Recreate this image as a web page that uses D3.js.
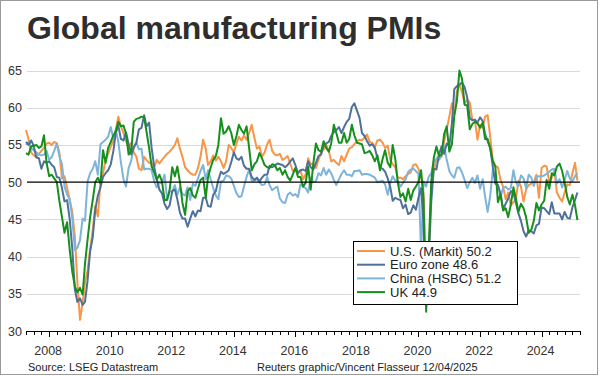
<!DOCTYPE html>
<html>
<head>
  <title>Global manufacturing PMIs</title>
  <script src="https://d3js.org/d3.v7.min.js"></script>
  <style>
    body { margin: 0; background: #fff; }
    text { font-family: "Liberation Sans", Arial, sans-serif; }
  </style>
</head>
<body>
  <div id="chart"></div>
  <script>
    // monthly values, Apr 2007 .. Mar 2025
    const usValues = [
      57.0, 55.8, 54.0, 53.6, 53.4, 53.8, 54.2, 54.6, 55.2,
      55.3, 55.0, 55.4, 55.2, 54.0, 50.5, 50.8, 49.2, 47.6, 46.0, 42.7, 36.5,
      31.5, 33.8, 36.5, 38.2, 41.0, 43.6, 46.8, 45.4, 50.0, 51.2, 53.0, 53.8,
      54.8, 55.5, 57.0, 58.8, 57.5, 56.6, 55.5, 54.6, 55.3, 54.0, 53.4, 51.8,
      51.6, 53.4, 53.0, 52.6, 52.6, 52.0, 53.0, 52.5, 53.0, 53.4, 53.8, 54.1,
      54.5, 55.0, 55.9, 54.5, 53.4, 52.0, 51.6, 51.2, 51.0, 51.0, 51.9, 53.4,
      55.7, 54.5, 52.3, 52.8, 53.6, 52.9, 53.4, 52.8, 51.9, 52.8, 55.0, 54.6,
      54.0, 55.2, 56.1, 55.6, 56.3, 55.7, 56.6, 57.7, 56.0, 54.5, 54.8, 53.4,
      54.0, 55.1, 55.7, 54.2, 53.7, 53.6, 53.8, 53.0, 53.2, 53.5, 52.5, 51.5,
      51.8, 51.2, 51.6, 50.4, 51.0, 53.2, 52.4, 52.5, 51.9, 53.0, 54.0, 54.4,
      55.0, 54.2, 52.8, 53.0, 52.6, 52.3, 53.5, 52.8, 53.7, 54.5, 54.7, 55.1,
      55.5, 55.7, 55.6, 56.0, 56.4, 55.4, 55.3, 54.7, 55.6, 55.7, 55.3, 54.6,
      54.9, 53.0, 52.4, 52.0, 50.6, 50.6, 50.4, 50.8, 51.1, 51.3, 52.3, 52.4,
      51.8, 50.7, 48.5, 36.1, 39.8, 49.8, 51.6, 53.1, 53.6, 53.4, 55.5, 57.1,
      58.8, 60.6, 59.1, 62.2, 63.1, 62.1, 60.6, 61.1, 60.7, 58.4, 58.3, 55.7,
      57.7, 57.3, 58.8, 59.0, 56.1, 53.0, 52.2, 52.0, 50.3, 49.4, 47.7, 48.6,
      46.9, 47.3, 47.6, 50.2, 49.4, 47.4, 49.0, 49.6, 49.8, 50.0, 51.0, 47.9,
      51.9, 52.2, 52.1, 50.0, 50.6, 51.6, 48.6, 47.9, 47.4, 48.6, 49.7, 49.6,
      51.2, 52.6, 50.2
    ];
    const euroValues = [
      55.4, 55.0, 55.6, 54.9, 53.3, 53.2, 51.8, 52.8, 52.6,
      52.8, 52.3, 52.0, 50.7, 50.6, 49.2, 47.4, 47.6, 45.0, 41.1, 35.6, 33.9,
      34.4, 33.5, 33.9, 36.8, 40.7, 42.6, 46.3, 48.2, 49.3, 50.7, 51.2, 51.6,
      52.4, 54.2, 56.6, 57.6, 55.8, 55.6, 56.7, 55.1, 53.7, 54.6, 55.3, 57.1,
      57.3, 59.0, 57.5, 58.0, 54.6, 52.0, 50.4, 49.0, 48.5, 47.1, 46.4, 46.9,
      48.8, 49.0, 47.7, 45.9, 45.1, 45.1, 44.0, 45.1, 46.1, 45.4, 46.2, 46.1,
      47.9, 47.9, 46.8, 46.7, 48.3, 48.8, 50.3, 51.4, 51.1, 51.3, 51.6, 52.7,
      54.0, 53.2, 53.0, 53.4, 52.2, 51.8, 51.8, 50.7, 50.3, 50.6, 50.1, 50.6,
      51.0, 51.0, 52.2, 52.0, 52.2, 52.5, 52.4, 52.3, 52.0, 52.3, 52.8, 53.2,
      52.3, 51.2, 51.6, 51.7, 51.5, 52.8, 52.0, 51.7, 52.6, 53.5, 53.7, 54.9,
      55.2, 55.4, 56.2, 56.7, 57.0, 57.4, 56.6, 57.4, 58.1, 58.5, 60.1, 60.6,
      59.6, 58.6, 56.6, 56.2, 55.5, 54.9, 55.1, 54.6, 53.2, 52.0, 51.8, 51.4,
      50.5, 49.3, 47.5, 47.9, 47.7, 47.6, 46.5, 47.0, 45.7, 45.9, 46.9, 46.3,
      47.9, 49.2, 44.5, 33.4, 39.4, 47.4, 51.8, 51.7, 53.7, 54.8, 53.8, 55.2,
      54.8, 57.9, 62.5, 62.9, 63.1, 63.4, 62.8, 61.4, 58.6, 58.3, 58.4, 58.0,
      58.7, 58.2, 56.5, 55.5, 54.6, 52.1, 49.8, 49.6, 48.4, 46.4, 47.1, 47.8,
      48.8, 48.5, 47.3, 45.8, 44.8, 43.4, 42.7, 43.5, 43.4, 43.1, 44.2, 44.4,
      46.6, 46.5, 46.1, 45.7, 47.3, 45.8, 45.8, 45.8, 45.0, 46.0, 45.2, 45.1,
      46.6, 47.6, 48.6
    ];
    const chinaValues = [
      55.0, 55.4, 54.6, 54.3, 54.0, 53.7, 53.6, 53.7, 54.2,
      53.0, 53.4, 54.2, 55.2, 53.5, 52.4, 49.4, 48.3, 47.7, 45.2, 40.9, 41.2,
      42.2, 45.1, 44.8, 50.1, 51.2, 51.8, 52.8, 51.0, 55.1, 55.4, 55.7, 56.1,
      57.4, 55.8, 57.0, 55.4, 52.7, 50.4, 49.4, 51.9, 52.9, 54.8, 55.3, 54.4,
      54.5, 51.7, 51.8, 51.8, 51.6, 50.1, 49.3, 49.9, 49.9, 51.0, 47.7, 48.7,
      48.8, 49.6, 48.3, 49.3, 48.4, 48.2, 49.3, 47.6, 49.8, 49.5, 50.5, 51.5,
      52.3, 50.4, 51.6, 50.4, 49.2, 48.2, 47.7, 50.1, 50.2, 50.9, 50.8, 50.5,
      49.5, 48.5, 48.0, 48.1, 49.4, 50.7, 51.7, 50.2, 50.2, 50.4, 50.0, 49.6,
      49.7, 50.7, 49.6, 48.9, 49.2, 49.4, 47.8, 47.3, 47.2, 48.3, 48.6, 48.2,
      48.4, 48.0, 49.7, 49.4, 49.2, 48.6, 50.6, 50.0, 50.1, 51.2, 50.9, 51.9,
      51.0, 51.7, 51.2, 50.3, 49.6, 50.4, 51.1, 51.6, 51.0, 51.0, 50.8, 51.5,
      51.5, 51.6, 51.0, 51.1, 51.1, 51.0, 50.8, 50.6, 50.0, 50.1, 50.2, 49.7,
      48.3, 49.9, 50.8, 50.2, 50.2, 49.4, 49.9, 50.4, 51.4, 51.7, 51.8, 51.5,
      51.1, 40.3, 50.1, 49.4, 50.7, 51.2, 52.8, 53.1, 53.0, 53.6, 54.9, 53.0,
      51.5, 50.9, 50.6, 51.9, 52.0, 51.3, 50.3, 49.2, 50.0, 50.6, 49.9, 50.9,
      49.1, 50.4, 48.1, 46.0, 48.1, 51.7, 50.4, 49.5, 48.1, 49.2, 49.4, 49.0,
      49.2, 51.6, 50.0, 49.5, 50.9, 50.5, 49.2, 51.0, 50.6, 49.5, 50.7, 50.8,
      50.8, 50.9, 51.1, 51.4, 51.7, 51.8, 49.8, 50.4, 49.3, 50.3, 51.5, 50.5,
      50.1, 50.8, 51.2
    ];
    const ukValues = [
      53.9, 53.7, 54.8, 54.9, 55.0, 54.6, 54.8, 56.3, 52.6,
      50.8, 51.0, 50.5, 50.0, 47.5, 45.3, 43.2, 44.6, 40.9, 38.0, 36.0, 35.2,
      35.8, 34.9, 39.0, 42.3, 45.3, 47.6, 50.0, 50.6, 49.8, 54.3, 52.6, 54.6,
      55.4, 56.3, 56.8, 58.1, 57.5, 57.6, 56.5, 53.7, 54.2, 58.1, 58.5, 58.6,
      58.8, 58.7, 56.8, 54.6, 52.1, 51.3, 50.3, 51.0, 50.1, 47.6, 47.6, 49.0,
      52.0, 50.8, 52.1, 50.0, 47.2, 45.6, 48.8, 49.2, 48.2, 47.9, 49.1, 50.3,
      50.6, 47.9, 50.7, 52.0, 53.0, 53.5, 55.0, 58.6, 56.5, 56.8, 57.5, 56.6,
      55.0, 56.2, 57.7, 57.0, 56.5, 57.5, 54.6, 51.6, 52.4, 52.8, 53.9, 53.2,
      52.3, 52.0, 51.9, 52.4, 52.3, 51.6, 51.9, 51.0, 51.6, 50.7, 50.2, 51.0,
      51.9, 50.7, 50.7, 49.4, 49.9, 52.1, 49.0, 52.5, 55.2, 54.3, 54.1, 55.5,
      54.6, 54.1, 55.2, 57.7, 56.6, 55.3, 55.3, 56.6, 55.3, 55.8, 57.7, 56.3,
      55.3, 55.2, 55.1, 53.9, 54.0, 54.2, 53.6, 52.8, 53.6, 51.6, 53.1, 54.3,
      52.6, 52.0, 55.0, 53.1, 49.9, 48.0, 48.5, 47.4, 49.1, 47.6, 48.9, 49.4,
      50.0, 51.6, 47.8, 32.6, 40.7, 50.1, 53.3, 54.8, 53.5, 53.7, 56.5, 57.5,
      54.1, 55.1, 58.9, 60.9, 65.0, 63.9, 60.4, 60.3, 57.1, 57.8, 58.1, 57.9,
      57.3, 58.0, 55.8, 55.8, 54.6, 52.8, 52.1, 47.3, 48.4, 46.2, 46.5, 45.3,
      47.0, 49.3, 47.9, 46.0, 47.1, 46.5, 45.3, 43.2, 43.6, 44.8, 47.2, 46.2,
      47.0, 47.5, 50.3, 49.1, 51.2, 50.9, 52.1, 52.5, 51.5, 49.9, 48.0, 47.0,
      48.3, 46.9, 44.9
    ];

    const seriesNames = ["U.S. (Markit) 50.2", "Euro zone 48.6", "China (HSBC) 51.2", "UK 44.9"];
    const seriesColors = ["#f79646", "#4f7199", "#7db4d9", "#16901c"];
    const yTicks = [30, 35, 40, 45, 50, 55, 60, 65];
    const yearLabels = [2008, 2010, 2012, 2014, 2016, 2018, 2020, 2022, 2024];

    const months = d3.timeMonth.range(new Date(2007, 3, 1), new Date(2025, 3, 1));
    const allValues = [usValues, euroValues, chinaValues, ukValues];

    const width = 600, height = 376;
    const svg = d3.select("#chart").append("svg")
      .attr("width", width).attr("height", height);

    svg.append("rect")
      .attr("x", 0.5).attr("y", 0.5)
      .attr("width", 597).attr("height", 374)
      .attr("fill", "#fff").attr("stroke", "#9a9a9a");

    const x = d3.scaleTime()
      .domain([new Date(2007, 3, 1), new Date(2025, 3, 1)])
      .range([26, 580]);
    const y = d3.scaleLinear().domain([30, 65]).range([331, 70.5]);

    svg.append("text")
      .attr("x", 27).attr("y", 39)
      .attr("font-size", "32px").attr("font-weight", "bold")
      .attr("fill", "#2e2e2e")
      .text("Global manufacturing PMIs");

    // gridlines
    svg.append("g").selectAll("line")
      .data(yTicks.filter(d => d !== 30 && d !== 50))
      .join("line")
      .attr("x1", 27).attr("x2", 580)
      .attr("y1", d => Math.round(y(d)) + 0.5).attr("y2", d => Math.round(y(d)) + 0.5)
      .attr("stroke", "#d9d9d9");

    svg.append("g").selectAll("text")
      .data(yTicks)
      .join("text")
      .attr("x", 22).attr("y", d => y(d) + 4.5)
      .attr("text-anchor", "end")
      .attr("font-size", "12.5px")
      .attr("fill", "#333")
      .text(d => d);

    const line = d3.line()
      .x(d => x(d[0]))
      .y(d => y(d[1]));

    const drawOrder = [0, 2, 1, 3];
    drawOrder.forEach(i => {
      svg.append("path")
        .datum(months.map((m, j) => [m, allValues[i][j]]))
        .attr("fill", "none")
        .attr("stroke", seriesColors[i])
        .attr("stroke-width", 2)
        .attr("stroke-linejoin", "round")
        .attr("d", line);
    });

    // 50 line
    svg.append("line")
      .attr("x1", 27).attr("x2", 580)
      .attr("y1", y(50)).attr("y2", y(50))
      .attr("stroke", "#000").attr("stroke-width", 1.3);

    // x axis
    const xAxis = svg.append("g");
    xAxis.append("line")
      .attr("x1", 26).attr("x2", 581)
      .attr("y1", 331.5).attr("y2", 331.5)
      .attr("stroke", "#000");
    const quarters = d3.timeMonth.every(3).range(new Date(2007, 3, 1), new Date(2025, 4, 1));
    xAxis.selectAll("line.tick")
      .data(quarters)
      .join("line")
      .attr("class", "tick")
      .attr("x1", d => Math.round(x(d)) + 0.5).attr("x2", d => Math.round(x(d)) + 0.5)
      .attr("y1", 331.5)
      .attr("y2", d => (d.getMonth() === 0 && d.getFullYear() % 2 === 0) ? 337 : 335)
      .attr("stroke", "#000");
    xAxis.selectAll("text")
      .data(yearLabels)
      .join("text")
      .attr("x", d => x(new Date(d, 0, 1)) - 1)
      .attr("y", 355)
      .attr("text-anchor", "middle")
      .attr("font-size", "12.5px")
      .attr("fill", "#333")
      .text(d => d);

    // legend
    const legend = svg.append("g");
    legend.append("rect")
      .attr("x", 353.5).attr("y", 241.5)
      .attr("width", 164).attr("height", 63)
      .attr("fill", "#fff").attr("stroke", "#000");
    seriesNames.forEach((name, i) => {
      const ly = 251 + i * 13.7;
      legend.append("line")
        .attr("x1", 357).attr("x2", 385)
        .attr("y1", ly).attr("y2", ly)
        .attr("stroke", seriesColors[i]).attr("stroke-width", 2);
      legend.append("text")
        .attr("x", 390).attr("y", ly + 4.5)
        .attr("font-size", "13px")
        .attr("fill", "#222")
        .text(name);
    });

    svg.append("text")
      .attr("x", 28).attr("y", 371)
      .attr("font-size", "11px").attr("fill", "#222")
      .text("Source: LSEG Datastream");
    svg.append("text")
      .attr("x", 257).attr("y", 371)
      .attr("font-size", "11px").attr("fill", "#222")
      .text("Reuters graphic/Vincent Flasseur 12/04/2025");
  </script>
</body>
</html>
